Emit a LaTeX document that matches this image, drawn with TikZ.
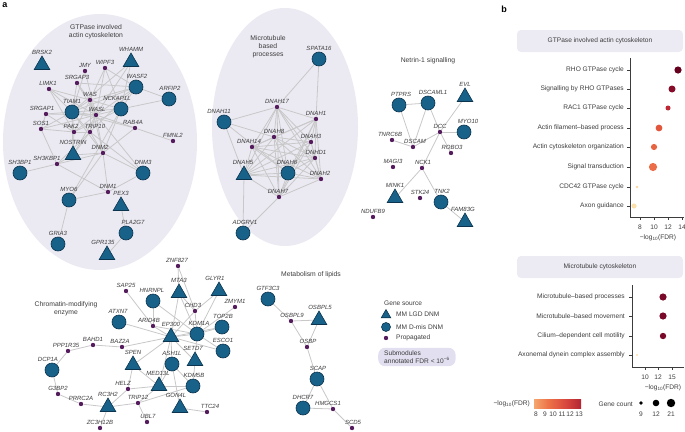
\documentclass[tikz,border=0pt]{standalone}
\usepackage{fontspec}
\setmainfont{Liberation Sans}
\usepackage{tikz}
\usepackage{xcolor}
\usetikzlibrary{shapes.geometric,backgrounds}
\definecolor{bubble}{RGB}{235,234,243}
\definecolor{nodeblue}{RGB}{24,98,138}
\definecolor{nodeline}{RGB}{12,52,78}
\definecolor{propdot}{RGB}{84,28,92}
\definecolor{edgegray}{RGB}{200,200,200}
\definecolor{labgray}{RGB}{60,60,60}
\definecolor{boxfill}{RGB}{236,235,244}
\definecolor{subfill}{RGB}{226,224,240}
\definecolor{fdrA}{RGB}{103,0,31}
\definecolor{fdrB}{RGB}{135,12,42}
\definecolor{fdrC}{RGB}{190,40,52}
\definecolor{fdrD}{RGB}{226,86,60}
\definecolor{fdrE}{RGB}{231,100,66}
\definecolor{fdrF}{RGB}{236,110,72}
\definecolor{fdrG}{RGB}{250,214,160}
\definecolor{fdrH}{RGB}{252,224,172}
\definecolor{fdrM}{RGB}{122,8,40}
\pgfdeclarehorizontalshading{fdrbar}{100bp}{rgb(0bp)=(0.99,0.90,0.69); rgb(20bp)=(0.97,0.72,0.48); rgb(40bp)=(0.93,0.45,0.28); rgb(60bp)=(0.84,0.27,0.24); rgb(80bp)=(0.65,0.10,0.19); rgb(100bp)=(0.42,0.01,0.13)}
\newcommand{\genefont}{\fontsize{6}{6.5}\selectfont\itshape}
\newcommand{\clfont}{\fontsize{6.8}{7.8}\selectfont}
\newcommand{\plotfont}{\fontsize{6.6}{7.6}\selectfont}
\tikzset{%
  mis/.style={circle, draw=nodeline, fill=nodeblue, line width=0.6pt, minimum size=14pt, inner sep=0pt},
  lgd/.style={regular polygon, regular polygon sides=3, draw=nodeline, fill=nodeblue, line width=0.6pt, minimum size=18pt, inner sep=0pt},
  prop/.style={circle, fill=propdot, minimum size=4.4pt, inner sep=0pt},
  lab/.style={font=\genefont, text=labgray, inner sep=0.7pt},
  ppi/.style={draw=edgegray, line width=0.8pt},
  cltitle/.style={font=\clfont, text=labgray, align=center},
  plain/.style={font=\plotfont, text=labgray, inner sep=1pt},
  axisline/.style={draw=labgray, line width=0.4pt}
}

\begin{document}
\begin{tikzpicture}[x=1pt,y=-1pt]
\useasboundingbox (0,0) rectangle (685,431);
\node[font=\fontsize{9}{9}\selectfont\bfseries] (pa) at (5,5) {a};
\node[font=\fontsize{9}{9}\selectfont\bfseries] (pb) at (504,9) {b};

%% GTPase involved actin cytoskeleton
\node[cltitle] (tGTP) at (96,32) {GTPase involved\\actin cytoskeleton};
\node[lgd, label={[lab]above:BRSK2}] (BRSK2) at (42,65) {};
\node[lgd, label={[lab]above:WHAMM}] (WHAMM) at (131,62) {};
\node[prop, label={[lab]above:JMY}] (JMY) at (85,71) {};
\node[prop, label={[lab]above:WIPF3}] (WIPF3) at (105,68) {};
\node[prop, label={[lab]above:SRGAP3}] (SRGAP3) at (77,83) {};
\node[prop, label={[lab,xshift=-1pt]above:LIMK1}] (LIMK1) at (49,89) {};
\node[mis, label={[lab,xshift=1pt]above:WASF2}] (WASF2) at (136,87) {};
\node[mis, label={[lab,xshift=1pt]above:ARFIP2}] (ARFIP2) at (169,99) {};
\node[prop, label={[lab]above:WAS}] (WAS) at (90,100) {};
\node[mis, label={[lab]above:TIAM1}] (TIAM1) at (72,112) {};
\node[mis, label={[lab,xshift=-4pt]above:NCKAP1L}] (NCKAP1L) at (121,109) {};
\node[prop, label={[lab,xshift=-4pt]above:SRGAP1}] (SRGAP1) at (46,114) {};
\node[prop, label={[lab,xshift=1pt]above:WASL}] (WASL) at (96,115) {};
\node[prop, label={[lab]above:SOS1}] (SOS1) at (41,129) {};
\node[prop, label={[lab,xshift=-3pt]above:PAK2}] (PAK2) at (74,132) {};
\node[prop, label={[lab,xshift=5pt]above:TRIP10}] (TRIP10) at (90,132) {};
\node[prop, label={[lab,xshift=-2pt]above:RAB4A}] (RAB4A) at (135,128) {};
\node[prop, label={[lab]above:FMNL2}] (FMNL2) at (173,141) {};
\node[lgd, label={[lab]above:NOSTRIN}] (NOSTRIN) at (73,155) {};
\node[prop, label={[lab,xshift=-3pt]above:DNM2}] (DNM2) at (103,153) {};
\node[prop, label={[lab,xshift=-10pt]above:SH3KBP1}] (SH3KBP1) at (57,164) {};
\node[mis, label={[lab]above:SH3BP1}] (SH3BP1) at (20,173) {};
\node[mis, label={[lab]above:DNM3}] (DNM3) at (143,173) {};
\node[mis, label={[lab]above:MYO6}] (MYO6) at (69,200) {};
\node[prop, label={[lab]above:DNM1}] (DNM1) at (108,192) {};
\node[lgd, label={[lab]above:PEX3}] (PEX3) at (121,206) {};
\node[mis, label={[lab,xshift=7pt]above:PLA2G7}] (PLA2G7) at (126,233) {};
\node[mis, label={[lab]above:GRIA3}] (GRIA3) at (58,244) {};
\node[lgd, label={[lab,xshift=-4pt]above:GPR135}] (GPR135) at (107,255) {};

%% Microtubule based processes
\node[cltitle] (tMT) at (268,47) {Microtubule\\based\\processes};
\node[mis, label={[lab]above:SPATA16}] (SPATA16) at (319,59) {};
\node[prop, label={[lab]above:DNAH17}] (DNAH17) at (277,107) {};
\node[mis, label={[lab,xshift=-5pt]above:DNAH11}] (DNAH11) at (224,122) {};
\node[prop, label={[lab]above:DNAH1}] (DNAH1) at (316,119) {};
\node[prop, label={[lab]above:DNAH8}] (DNAH8) at (274,137) {};
\node[prop, label={[lab]above:DNAH3}] (DNAH3) at (311,142) {};
\node[prop, label={[lab,xshift=-3pt]above:DNAH14}] (DNAH14) at (252,147) {};
\node[prop, label={[lab,xshift=1pt]above:DNHD1}] (DNHD1) at (315,158) {};
\node[lgd, label={[lab,xshift=-1pt]above:DNAH5}] (DNAH5) at (244,175) {};
\node[mis, label={[lab,xshift=-1pt]above:DNAH6}] (DNAH6) at (288,173) {};
\node[prop, label={[lab,xshift=-1pt]above:DNAH2}] (DNAH2) at (321,179) {};
\node[prop, label={[lab,xshift=-1pt]above:DNAH7}] (DNAH7) at (279,197) {};
\node[mis, label={[lab,xshift=2pt]above:ADGRV1}] (ADGRV1) at (243,233) {};

%% Netrin-1 signalling
\node[cltitle] (tNET) at (428,61) {Netrin-1 signalling};
\node[mis, label={[lab,xshift=2pt]above:PTPRS}] (PTPRS) at (399,105) {};
\node[mis, label={[lab,xshift=5pt]above:DSCAML1}] (DSCAML1) at (428,103) {};
\node[lgd, label={[lab]above:EVL}] (EVL) at (465,97) {};
\node[prop, label={[lab]above:DCC}] (DCC) at (440,132) {};
\node[mis, label={[lab,xshift=4pt]above:MYO10}] (MYO10) at (464,132) {};
\node[prop, label={[lab,xshift=-2pt]above:TNRC6B}] (TNRC6B) at (392,140) {};
\node[prop, label={[lab,xshift=2pt]above:DSCAM}] (DSCAM) at (413,147) {};
\node[prop, label={[lab,xshift=1pt]above:ROBO3}] (ROBO3) at (451,153) {};
\node[prop, label={[lab]above:MAGI3}] (MAGI3) at (393,167) {};
\node[prop, label={[lab,xshift=1pt]above:NCK1}] (NCK1) at (422,168) {};
\node[lgd, label={[lab]above:MINK1}] (MINK1) at (395,198) {};
\node[prop, label={[lab]above:STK24}] (STK24) at (420,198) {};
\node[mis, label={[lab,xshift=1pt]above:TNK2}] (TNK2) at (441,202) {};
\node[prop, label={[lab]above:NDUFB9}] (NDUFB9) at (373,217) {};
\node[lgd, label={[lab,xshift=-2pt]above:FAM83G}] (FAM83G) at (465,222) {};

%% Chromatin-modifying enzyme
\node[cltitle] (tCHR) at (66,309) {Chromatin-modifying\\enzyme};
\node[prop, label={[lab]above:SAP25}] (SAP25) at (126,291) {};
\node[mis, label={[lab,xshift=-1pt]above:HNRNPL}] (HNRNPL) at (153,301) {};
\node[prop, label={[lab,xshift=-1pt]above:ZNF827}] (ZNF827) at (178,266) {};
\node[lgd, label={[lab]above:MTA3}] (MTA3) at (179,293) {};
\node[lgd, label={[lab,xshift=-4pt]above:GLYR1}] (GLYR1) at (219,291) {};
\node[prop, label={[lab]above:ZMYM1}] (ZMYM1) at (235,307) {};
\node[prop, label={[lab,xshift=-2pt]above:CHD3}] (CHD3) at (195,311) {};
\node[mis, label={[lab,xshift=-1pt]above:ATXN7}] (ATXN7) at (119,322) {};
\node[mis, label={[lab,xshift=1pt]above:TOP2B}] (TOP2B) at (222,327) {};
\node[prop, label={[lab,xshift=-4pt]above:ARID4B}] (ARID4B) at (153,326) {};
\node[lgd, label={[lab]above:EP300}] (EP300) at (171,337) {};
\node[mis, label={[lab,xshift=2pt]above:KDM1A}] (KDM1A) at (197,334) {};
\node[mis, label={[lab]above:ESCO1}] (ESCO1) at (223,351) {};
\node[lgd, label={[lab,xshift=-2pt]above:SETD7}] (SETD7) at (195,361) {};
\node[mis, label={[lab]above:ASH1L}] (ASH1L) at (172,364) {};
\node[prop, label={[lab]above:BAHD1}] (BAHD1) at (93,345) {};
\node[prop, label={[lab,xshift=-2pt]above:BAZ2A}] (BAZ2A) at (122,347) {};
\node[prop, label={[lab,xshift=-2pt]above:PPP1R35}] (PPP1R35) at (68,351) {};
\node[lgd, label={[lab]above:SPEN}] (SPEN) at (133,365) {};
\node[mis, label={[lab,xshift=-4pt]above:DCP1A}] (DCP1A) at (52,370) {};
\node[lgd, label={[lab,xshift=-1pt]above:MED13L}] (MED13L) at (159,386) {};
\node[mis, label={[lab,xshift=1pt]above:KDM5B}] (KDM5B) at (193,386) {};
\node[prop, label={[lab,xshift=-5pt]above:HELZ}] (HELZ) at (128,389) {};
\node[prop, label={[lab]above:G3BP2}] (G3BP2) at (58,394) {};
\node[prop, label={[lab]above:TRIP12}] (TRIP12) at (138,403) {};
\node[lgd, label={[lab]above:RC3H2}] (RC3H2) at (108,407) {};
\node[prop, label={[lab]above:PRRC2A}] (PRRC2A) at (81,404) {};
\node[lgd, label={[lab,xshift=-4pt]above:GON4L}] (GON4L) at (180,408) {};
\node[prop, label={[lab,xshift=3pt]above:TTC24}] (TTC24) at (207,412) {};
\node[prop, label={[lab,xshift=1pt]above:UBL7}] (UBL7) at (147,422) {};
\node[prop, label={[lab]above:ZC3H12B}] (ZC3H12B) at (100,428) {};

%% Metabolism of lipids
\node[cltitle] (tLIP) at (311,275) {Metabolism of lipids};
\node[mis, label={[lab]above:GTF3C3}] (GTF3C3) at (268,299) {};
\node[lgd, label={[lab,xshift=1pt]above:OSBPL5}] (OSBPL5) at (319,320) {};
\node[prop, label={[lab,xshift=1pt]above:OSBPL9}] (OSBPL9) at (291,321) {};
\node[prop, label={[lab,xshift=1pt]above:OSBP}] (OSBP) at (307,347) {};
\node[mis, label={[lab,xshift=1pt]above:SCAP}] (SCAP) at (317,379) {};
\node[mis, label={[lab]above:DHCR7}] (DHCR7) at (303,408) {};
\node[prop, label={[lab,xshift=-5pt]above:HMGCS1}] (HMGCS1) at (333,409) {};
\node[prop, label={[lab,xshift=1pt]above:SCD5}] (SCD5) at (352,428) {};

%% legend
\node[plain, anchor=west] (lgTitle) at (383,303) {Gene source};
\node[lgd, minimum size=11pt] (lgTri) at (386,315) {};
\node[plain, anchor=west] (lgTriT) at (395,314) {MM LGD DNM};
\node[mis, minimum size=9pt] (lgCirc) at (386,327) {};
\node[plain, anchor=west] (lgCircT) at (395,327) {MM D-mis DNM};
\node[prop] (lgDot) at (386,338) {};
\node[plain, anchor=west] (lgDotT) at (395,338) {Propagated};
\node[plain, fill=subfill, rounded corners=7pt, anchor=west, align=left, inner xsep=6pt, inner ysep=3pt] (lgSub) at (378,357) {Submodules\\annotated FDR < 10\textsuperscript{−6}};

\begin{scope}[on background layer]
\fill[bubble] (100,142) ellipse [x radius=97pt, y radius=128pt];
\fill[bubble] (285,127) ellipse [x radius=73pt, y radius=119pt];
\foreach \a/\b in {TIAM1/WASL, TIAM1/WAS, TIAM1/NCKAP1L, TIAM1/PAK2, TIAM1/TRIP10, TIAM1/SRGAP1, TIAM1/SOS1, TIAM1/LIMK1,
  TIAM1/SRGAP3, TIAM1/JMY, TIAM1/WHAMM, TIAM1/WASF2, TIAM1/RAB4A, TIAM1/DNM2, TIAM1/NOSTRIN,
  WASL/WAS, WASL/NCKAP1L, WASL/WASF2, WASL/WIPF3, WASL/JMY, WASL/WHAMM, WASL/SRGAP3, WASL/LIMK1, WASL/SRGAP1,
  WASL/SOS1, WASL/PAK2, WASL/TRIP10, WASL/DNM2, WASL/NOSTRIN, WASL/RAB4A, WASL/DNM3,
  WAS/NCKAP1L, WAS/WASF2, WAS/WIPF3, WAS/SRGAP3, WAS/PAK2, WAS/TRIP10, WAS/DNM2, WAS/LIMK1,
  NCKAP1L/WASF2, NCKAP1L/ARFIP2, NCKAP1L/WIPF3, NCKAP1L/WHAMM, NCKAP1L/PAK2, NCKAP1L/DNM2, NCKAP1L/MYO6,
  WASF2/ARFIP2, WASF2/WIPF3, WASF2/SRGAP3, WASF2/TRIP10,
  PAK2/LIMK1, PAK2/SOS1, PAK2/TRIP10, PAK2/NOSTRIN, PAK2/SRGAP1,
  TRIP10/NOSTRIN, TRIP10/DNM2, TRIP10/DNM3, TRIP10/SH3KBP1, SOS1/SH3KBP1, SRGAP1/SOS1,
  RAB4A/FMNL2, RAB4A/DNM2, DNM2/DNM1, DNM2/DNM3, DNM2/MYO6, DNM2/SH3KBP1, DNM2/NOSTRIN,
  DNM1/DNM3, DNM1/MYO6, DNM1/SH3KBP1, SH3KBP1/SH3BP1, SH3KBP1/NOSTRIN,
  MYO6/GRIA3, PEX3/PLA2G7, PLA2G7/GPR135}
  \draw[ppi] (\a) -- (\b);
% dynein clique
\foreach \a [count=\i] in {DNAH17,DNAH1,DNAH8,DNAH3,DNAH14,DNHD1,DNAH5,DNAH6,DNAH2,DNAH7}
  \foreach \b [count=\j] in {DNAH17,DNAH1,DNAH8,DNAH3,DNAH14,DNHD1,DNAH5,DNAH6,DNAH2,DNAH7}
    {\ifnum\j>\i \draw[ppi] (\a) -- (\b); \fi}
\foreach \a/\b in {DNAH11/DNAH17, DNAH11/DNAH8, DNAH11/DNAH5, DNAH11/DNAH6, SPATA16/DNAH17, SPATA16/DNAH1,
  ADGRV1/DNAH5, ADGRV1/DNAH7}
  \draw[ppi] (\a) -- (\b);
\foreach \a/\b in {PTPRS/DSCAML1, PTPRS/DSCAM, DSCAML1/DSCAM, DSCAML1/DCC, EVL/DCC, DCC/MYO10, DCC/ROBO3,
  DCC/DSCAM, DCC/NCK1, TNRC6B/DSCAM, NCK1/MINK1, NCK1/TNK2, TNK2/FAM83G}
  \draw[ppi] (\a) -- (\b);
\foreach \a/\b in {ZNF827/MTA3, ZNF827/CHD3, SAP25/ARID4B, HNRNPL/KDM1A, HNRNPL/ARID4B, MTA3/CHD3, MTA3/EP300,
  MTA3/KDM1A, GLYR1/KDM1A, GLYR1/CHD3, CHD3/KDM1A, CHD3/EP300, KDM1A/ZMYM1, TOP2B/KDM1A, TOP2B/EP300,
  ESCO1/KDM1A, EP300/ESCO1, BAZ2A/EP300, ARID4B/EP300, ARID4B/KDM1A, ATXN7/EP300,
  EP300/ASH1L, EP300/SETD7, EP300/SPEN, EP300/KDM1A, EP300/MED13L, SETD7/KDM1A, SETD7/KDM5B,
  ASH1L/KDM5B, ASH1L/GON4L, ASH1L/MED13L, KDM5B/MED13L, KDM5B/TRIP12, MED13L/TRIP12, MED13L/HELZ,
  MED13L/SPEN, SPEN/HELZ, HELZ/RC3H2, RC3H2/TRIP12, RC3H2/PRRC2A, RC3H2/ZC3H12B, TRIP12/UBL7,
  PRRC2A/G3BP2, G3BP2/DCP1A, DCP1A/PPP1R35, PPP1R35/BAHD1, BAHD1/BAZ2A, GON4L/TTC24}
  \draw[ppi] (\a) -- (\b);
\foreach \a/\b in {GTF3C3/OSBPL9, OSBPL9/OSBPL5, OSBPL9/OSBP, OSBPL5/OSBP, OSBP/SCAP, SCAP/DHCR7,
  SCAP/HMGCS1, DHCR7/HMGCS1, HMGCS1/SCD5}
  \draw[ppi] (\a) -- (\b);
\end{scope}

%% panel b, top
\node[plain, fill=boxfill, rounded corners=4pt, minimum width=166pt, minimum height=22pt] (hGTP) at (600,41) {GTPase involved actin cytoskeleton};
\draw[axisline] (630,58) -- (630,217) -- (684,217);
\foreach \t/\y/\x/\r/\c in {RHO GTPase cycle/70/678/3.6/fdrA, Signalling by RHO GTPases/89/672/3.5/fdrB,
  RAC1 GTPase cycle/108/668/2.5/fdrC, Actin filament–based process/128/659/3.4/fdrD,
  Actin cytoskeleton organization/147/654/3.1/fdrE, Signal transduction/167/653/4.1/fdrF,
  CDC42 GTPase cycle/187/637/1.3/fdrG, Axon guidance/206/634/2.6/fdrH}{
  \node[plain, anchor=east] (rowA\y) at (625,\y) {\t};
  \draw[axisline] (627,\y) -- (630,\y);
  \fill[\c] (\x,\y) circle (\r pt);
}
\foreach \v/\x in {8/640,10/654,12/668,14/682}{
  \draw[axisline] (\x,217) -- (\x,220);
  \node[plain] (tickA\v) at (\x,227) {\v};
}
\node[plain] (xlabA) at (658,238) {−log\textsubscript{10}(FDR)};

%% panel b, bottom
\node[plain, fill=boxfill, rounded corners=4pt, minimum width=166pt, minimum height=22pt] (hMT) at (600,267) {Microtubule cytoskeleton};
\draw[axisline] (632,285) -- (632,367) -- (684,367);
\foreach \t/\y/\x/\r/\c in {Microtubule–based processes/297/663/3.6/fdrM, Microtubule–based movement/316/663/3.6/fdrM,
  Cilium–dependent cell motility/336/663/3.2/fdrM, Axonemal dynein complex assembly/355/637/1.2/fdrH}{
  \node[plain, anchor=east] (rowB\y) at (626,\y) {\t};
  \draw[axisline] (629,\y) -- (632,\y);
  \fill[\c] (\x,\y) circle (\r pt);
}
\foreach \v/\x in {10/645,12/658,15/672}{
  \draw[axisline] (\x,367) -- (\x,370);
  \node[plain] (tickB\v) at (\x,377) {\v};
}
\node[plain] (xlabB) at (663,388) {−log\textsubscript{10}(FDR)};

%% colour and size keys
\node[plain, anchor=east] (keyFDR) at (531,404) {−log\textsubscript{10}(FDR)};
\shade[shading=fdrbar] (534,399) rectangle (581,408);
\foreach \v/\x in {8/536,9/545,10/553,11/562,12/570,13/579}
  \node[plain] (keyF\v) at (\x,414) {\v};
\node[plain, anchor=east] (keyGC) at (634,404) {Gene count};
\foreach \v/\x/\r in {9/641/1.8,12/656/3.3,21/671/4.2}{
  \fill[black] (\x,403) circle (\r pt);
  \node[plain] (keyG\v) at (\x,414) {\v};
}
\end{tikzpicture}
\end{document}
